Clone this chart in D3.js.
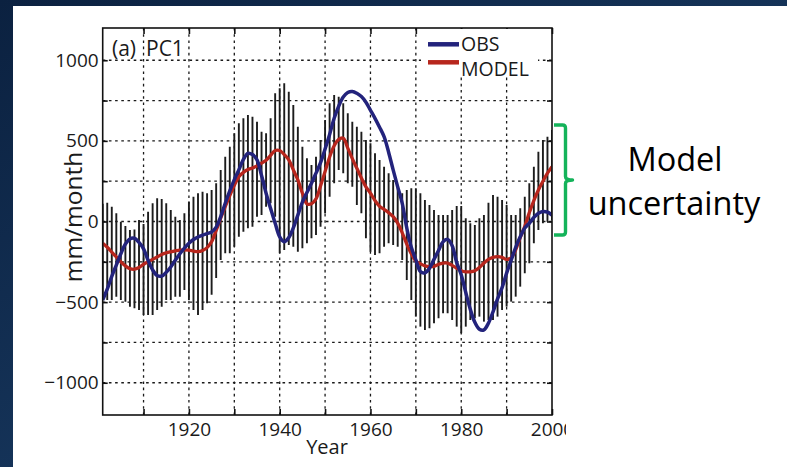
<!DOCTYPE html>
<html>
<head>
<meta charset="utf-8">
<script src="https://cdn.jsdelivr.net/npm/d3@7/dist/d3.min.js"></script>
<style>
  html, body { margin: 0; padding: 0; background: #0f2746; }
  svg { display: block; }
  text { font-family: "Open Sans", "DejaVu Sans", sans-serif; }
</style>
</head>
<body>
<svg id="chart" width="787" height="467"></svg>
<script>
// Years of the record, one value per year
const years = d3.range(1901, 2001);

// Observed PC1 (mm/month)
const obs = [
  -487, -420, -340, -270, -200, -140, -108, -104, -130, -170,
  -240, -300, -335, -338, -315, -282, -240, -200, -165, -135,
  -112,  -96,  -85,  -75,  -65,  -35,   30,  113,  190,  260,
   320,  385,  423,  415,  382,  285,  175,   80,  -11,  -95,
  -125, -100,  -40,   40,  120,  180,  237,  300,  365,  450,
   540,  640,  715,  772,  800,  806,  795,  775,  740,  690,
   640,  585,  526,  430,  320,  215,  113,  -40, -160, -238,
  -310, -318, -290, -235, -180, -125, -111, -150, -255, -330,
  -440, -545, -625, -668, -672, -630, -560, -480, -410, -320,
  -240, -160,  -95,  -40,  -11,   25,   51,   62,   58,   40
];

// Model ensemble mean PC1 (mm/month)
const model = [
  -135, -160, -190, -220, -250, -275, -292, -296, -285, -265,
  -250, -235, -220, -205, -195, -188, -182, -177, -176, -178,
  -183, -187, -180, -162, -125,  -55,   20,   92,  160,  225,
   278,  305,  322,  332,  345,  362,  380,  410,  440,  440,
   415,  382,  320,  258,  175,  110,  110,  140,  220,  310,
   400,  470,  510,  516,  455,  390,  330,  270,  215,  175,
   130,   95,   75,   55,   30,  -10,  -70, -140, -200, -245,
  -262, -275, -280, -278, -265, -258, -258, -272, -290, -305,
  -312, -312, -305, -285, -258, -235, -222, -218, -222, -235,
  -225, -175, -100,  -30,   55,  130,  195,  250,  300,  340
];

// Upper end of the model spread each year
const spreadHigh = [
   110,  117,   92,   51,   -1,  -28,  -53,  -49,    9,  -16,
    61,  113,  144,  140,  113,   71,   30,    9,   51,  123,
   154,  175,  185,  175,  195,  237,  319,  402,  464,  547,
   609,  640,  660,  650,  619,  557,  547,  640,  795,  826,
   857,  805,  722,  588,  464,  392,  350,  402,  505,  629,
   733,  784,  774,  733,  671,  619,  588,  557,  505,  485,
   423,  381,  340,  299,  257,  216,  175,  195,  206,  206,
   175,  133,  102,   71,   40,   40,   40,   71,   96,   96,
    20,  -11,  -22,   20,   40,  117,  164,  154,  133,  102,
    40,   40,   82,  154,  237,  340,  433,  505,  526,  567
];

// Lower end of the model spread each year
const spreadLow = [
  -480, -487, -487, -466, -487, -497, -528, -538, -549, -580,
  -580, -580, -549, -528, -487, -487, -466, -466, -425, -487,
  -549, -580, -549, -507, -455, -350, -239, -197, -197, -156,
   -94,  -63,  -42,  -32,   30,   40,   92,  113,   30, -197,
  -177, -146, -156, -187, -166, -135, -104,  -84,  -32,   50,
   154,  237,  319,  299,  237,  216,  102,   51, -104, -187,
  -208, -197, -156, -135, -146, -156, -239, -363, -487, -590,
  -652, -673, -662, -631, -600, -569, -569, -611, -652, -693,
  -652, -611, -600, -590, -621, -611, -611, -590, -549, -528,
  -497, -466, -404, -321, -259, -135,  -53,  -11,   -1,    9
];

// Axis ticks
const xTicks = [1910, 1920, 1930, 1940, 1950, 1960, 1970, 1980, 1990, 2000];
const xTickLabels = [1920, 1940, 1960, 1980, 2000];
const yTicks = [-1000, -750, -500, -250, 0, 250, 500, 750, 1000];
const yTickLabels = [-1000, -500, 0, 500, 1000];

const seriesNames = ["OBS", "MODEL"];
const seriesColors = ["#23237c", "#b7261d"];

const svg = d3.select("#chart");
const W = 787, H = 467;

// Slide background
const defs = svg.append("defs");
const bg = defs.append("linearGradient").attr("id", "bg")
  .attr("x1", "0%").attr("y1", "0%").attr("x2", "100%").attr("y2", "100%");
bg.append("stop").attr("offset", "0%").attr("stop-color", "#0b2140");
bg.append("stop").attr("offset", "100%").attr("stop-color", "#1e446f");
svg.append("rect").attr("width", W).attr("height", H).attr("fill", "url(#bg)");

// White content panel
svg.append("rect").attr("x", 13).attr("y", 6).attr("width", W - 13).attr("height", H - 6).attr("fill", "#fff");

const plotL = 102.7, plotR = 552, plotT = 28, plotB = 415;
const x = d3.scaleLinear().domain([1901, 2000]).range([plotL, plotR]);
const y = d3.scaleLinear().domain([-1200, 1200]).range([plotB, plotT]);

defs.append("clipPath").attr("id", "figClip")
  .append("rect").attr("x", 0).attr("y", 0).attr("width", 566).attr("height", H);
defs.append("clipPath").attr("id", "plotClip")
  .append("rect").attr("x", plotL).attr("y", plotT).attr("width", plotR - plotL).attr("height", plotB - plotT);

const fig = svg.append("g").attr("clip-path", "url(#figClip)");

// Dotted grid
const grid = fig.append("g").attr("stroke", "#1a1a1a").attr("stroke-width", 1.3)
  .attr("stroke-dasharray", "2.6,3.6");
grid.selectAll("line.gx").data(xTicks.filter(d => d < 2000)).join("line")
  .attr("class", "gx")
  .attr("x1", d => x(d)).attr("x2", d => x(d))
  .attr("y1", plotT).attr("y2", plotB);
grid.selectAll("line.gy").data(yTicks).join("line")
  .attr("class", "gy")
  .attr("x1", plotL).attr("x2", plotR)
  .attr("y1", d => y(d)).attr("y2", d => y(d));

const plot = fig.append("g").attr("clip-path", "url(#plotClip)");

// Model spread bars
plot.append("g").selectAll("line").data(years).join("line")
  .attr("x1", (d) => x(d)).attr("x2", (d) => x(d))
  .attr("y1", (d, i) => y(spreadLow[i])).attr("y2", (d, i) => y(spreadHigh[i]))
  .attr("stroke", "#1c1c1c").attr("stroke-width", 1.9);

const line = d3.line()
  .x((d, i) => x(years[i]))
  .y(d => y(d))
  .curve(d3.curveCatmullRom.alpha(0.5));

plot.append("path").datum(model).attr("d", line)
  .attr("fill", "none").attr("stroke", seriesColors[1]).attr("stroke-width", 3.3);
plot.append("path").datum(obs).attr("d", line)
  .attr("fill", "none").attr("stroke", seriesColors[0]).attr("stroke-width", 3.5);

// Axes with inward ticks on all four sides
const fmt = d => String(d).replace("-", "\u2212");
const axB = d3.axisBottom(x).tickValues(xTicks).tickSizeInner(-6).tickSizeOuter(0).tickPadding(8)
  .tickFormat(d => xTickLabels.includes(d) ? fmt(d) : "");
const axT = d3.axisTop(x).tickValues(xTicks).tickSizeInner(-6).tickSizeOuter(0).tickFormat("");
const axL = d3.axisLeft(y).tickValues(yTicks).tickSizeInner(-5).tickSizeOuter(0).tickPadding(4)
  .tickFormat(d => yTickLabels.includes(d) ? fmt(d) : "");
const axR = d3.axisRight(y).tickValues(yTicks).tickSizeInner(-5).tickSizeOuter(0).tickFormat("");

function styleAxis(g) {
  g.select(".domain").remove();
  g.selectAll(".tick line").attr("stroke", "#111").attr("stroke-width", 1.6);
  g.selectAll(".tick text").attr("fill", "#1a1a1a").style("font-size", "19px")
    .style("font-family", "'Open Sans', sans-serif");
}
fig.append("g").attr("transform", `translate(0,${plotB})`).call(axB).call(styleAxis);
fig.append("g").attr("transform", `translate(0,${plotT})`).call(axT).call(styleAxis);
fig.append("g").attr("transform", `translate(${plotL},0)`).call(axL).call(styleAxis);
fig.append("g").attr("transform", `translate(${plotR},0)`).call(axR).call(styleAxis);

// Legend (opaque box without border)
const leg = fig.append("g");
leg.append("rect").attr("x", 421).attr("y", plotT + 1).attr("width", 117).attr("height", 47).attr("fill", "#fff");
const legY = [44.3, 62.3];
const legTextY = [50.5, 75.5];
seriesNames.forEach((name, i) => {
  leg.append("line").attr("x1", 428).attr("x2", 459).attr("y1", legY[i]).attr("y2", legY[i])
    .attr("stroke", seriesColors[i]).attr("stroke-width", 4.5);
  leg.append("text").attr("x", 461).attr("y", legTextY[i]).text(name)
    .attr("fill", "#1a1a1a").style("font-size", "19.5px");
});

// Frame
fig.append("rect").attr("x", plotL).attr("y", plotT).attr("width", plotR - plotL).attr("height", plotB - plotT)
  .attr("fill", "none").attr("stroke", "#111").attr("stroke-width", 1.6);

// Panel tag
const tag = fig.append("text").attr("y", 55.5).attr("fill", "#1a1a1a").style("font-size", "21px");
tag.append("tspan").attr("x", 112).text("(a)");
tag.append("tspan").attr("x", 146).text("PC1");

// Axis titles
fig.append("text").attr("transform", "translate(82,217) rotate(-90)")
  .attr("text-anchor", "middle").attr("fill", "#1a1a1a").style("font-size", "24.5px").text("mm/month");
fig.append("text").attr("x", 327).attr("y", 453.5)
  .attr("text-anchor", "middle").attr("fill", "#1a1a1a").style("font-size", "20px").text("Year");

// Annotation bracket and caption
svg.append("path")
  .attr("d", "M554,125 H562.5 Q565.5,125 565.5,128 V176.5 Q565.5,180 572.5,180 Q565.5,180 565.5,183.5 V232 Q565.5,235 562.5,235 H554")
  .attr("fill", "none").attr("stroke", "#14b35a").attr("stroke-width", 3.4).attr("stroke-linejoin", "round");
const cap = svg.append("text").attr("text-anchor", "middle").attr("fill", "#000").style("font-size", "32.5px");
cap.append("tspan").attr("x", 675).attr("y", 170.5).text("Model");
cap.append("tspan").attr("x", 674).attr("y", 215).text("uncertainty");
</script>
</body>
</html>
